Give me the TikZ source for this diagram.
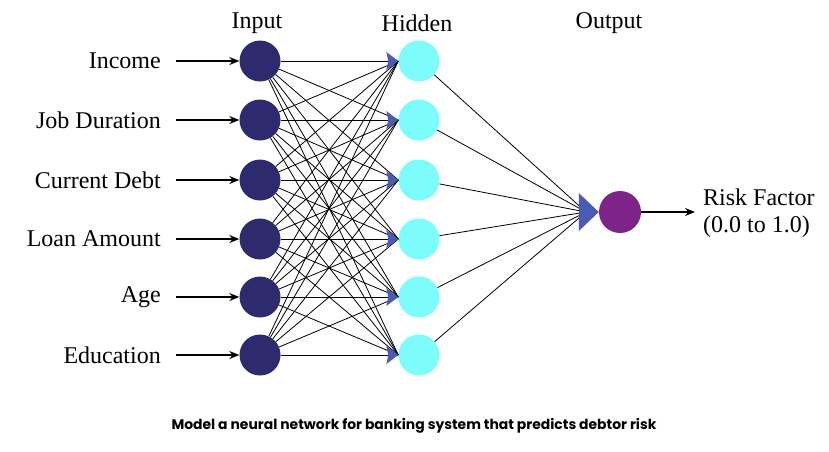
\documentclass[tikz,border=0pt]{standalone}
\usepackage{fontspec}
\setmainfont{Liberation Serif}
\newfontfamily\capfont{Poppins}
\usetikzlibrary{arrows.meta}
\tikzset{
	>={Stealth[length=10pt,width=8pt]},
	neuron/.style={circle, minimum size=41pt, inner sep=0pt},
	input neuron/.style={neuron, fill=inputcol},
	hidden neuron/.style={neuron, fill=hiddencol},
	output neuron/.style={neuron, fill=outputcol, minimum size=42pt},
	feature/.style={anchor=east, inner sep=0pt},
	layer/.style={inner sep=0pt},
	link/.style={black, line width=0.8pt},
}
\definecolor{inputcol}{HTML}{2E2A6E}
\definecolor{hiddencol}{HTML}{7DFCFC}
\definecolor{outputcol}{HTML}{7E2488}
\definecolor{tipcol}{HTML}{4B5BB3}

\begin{document}
\begin{tikzpicture}[
            x=1pt, y=-1pt,
            font=\fontsize{24}{27}\selectfont
        ]
        \useasboundingbox (0,0) rectangle (829,451);
        % layer titles
        \node[layer] (tin) at (257,23) {Input};
        \node[layer] (thid) at (417,23) {Hidden};
        \node[layer] (tout) at (609,23) {Output};
        % neurons and features
        \foreach \n/\y/\txt in {1/61/Income, 2/120/Job Duration, 3/180/Current Debt,
                4/239/Loan Amount, 5/297/Age, 6/355/Education} {
                \node[input neuron] (i\n) at (260,\y) {};
                \node[hidden neuron] (h\n) at (419,\y) {};
                \node[feature] (f\n) at (161,\y) {\txt};
                \draw[->, line width=1.2pt] (176,\y) -- (i\n.west);
            }
        \node[output neuron] (o) at (620,212) {};
        \coordinate (otip) at (586,212);
        % connections
        \foreach \a in {1,...,6} {
                \foreach \b in {1,...,6} {
                        \draw[link] (i\a) -- (h\b.west);
                    }
                \draw[link] (h\a) -- (otip);
            }
        % arrow heads
        \foreach \n in {1,...,6} {
                \fill[tipcol] (h\n.west) -- ++(-12,-9) -- ++(2,9) -- ++(-2,9) -- cycle;
            }
        \fill[tipcol] (o.west) -- ++(-20,-19) -- ++(0,38) -- cycle;
        % result
        \node[layer, anchor=west, align=left] (risk) at (703,213) {Risk Factor\\(0.0 to 1.0)};
        \draw[->, line width=1.2pt] (o.east) -- (695,212);
        % caption
        \node[layer] (cap) at (414,426) {\capfont\bfseries\fontsize{13.9}{16}\selectfont Model a neural network for banking system that predicts debtor risk};
    \end{tikzpicture}
\end{document}
